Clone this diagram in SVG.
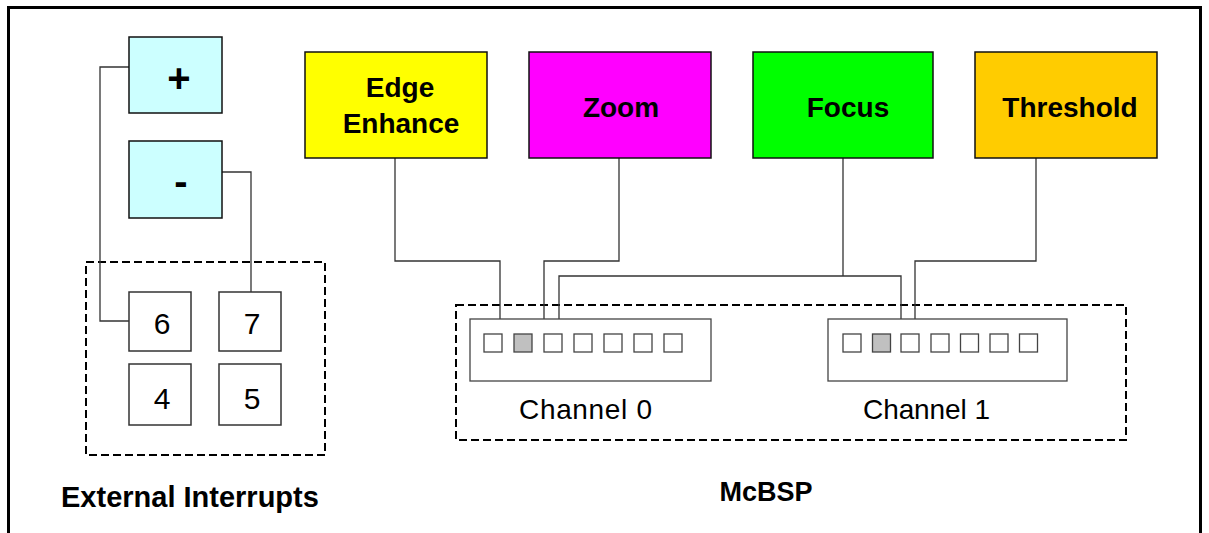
<svg xmlns="http://www.w3.org/2000/svg" width="1209" height="533" viewBox="0 0 1209 533">
<style>
.frame{fill:none;stroke:#000;stroke-width:3}
.node{stroke:#111;stroke-width:1.5}
.small{fill:#fff;stroke:#333;stroke-width:1.5}
.wire{fill:none;stroke:#333;stroke-width:1.3}
.dash{fill:none;stroke:#000;stroke-width:2;stroke-dasharray:8 4}
.sq{fill:#fff;stroke:#444;stroke-width:1.3}
.sqg{fill:#c0c0c0;stroke:#444;stroke-width:1.3}
.bold{font-family:"Liberation Sans",Arial,sans-serif;font-weight:bold;fill:#000}
.reg{font-family:"Liberation Sans",Arial,sans-serif;fill:#000}
</style>
<rect width="1209" height="533" fill="#fff"/>
<path class="frame" d="M8.5,533 V7.5 H1200.5 V533"/>

<g id="ext-group">
<rect class="dash" x="86" y="262" width="239" height="193"/>
<text class="bold" x="61" y="507" font-size="29">External Interrupts</text>
</g>
<g id="mcbsp-group">
<rect class="dash" x="456" y="305" width="670" height="135"/>
<text class="bold" x="766" y="501" font-size="27" text-anchor="middle">McBSP</text>
</g>

<g id="connectors">
<path class="wire" d="M129,67 H100 V321 H129"/>
<path class="wire" d="M222,172 H251 V292"/>
<path class="wire" d="M395,158 V261 H500 V334"/>
<path class="wire" d="M619,158 V261 H544 V334"/>
<path class="wire" d="M843,158 V276 M559,334 V276 H901 V334"/>
<path class="wire" d="M1036,158 V261 H915 V334"/>
</g>

<g id="plus">
<rect class="node" x="129" y="37" width="93" height="76" fill="#ccffff"/>
<text class="bold" x="179" y="92" font-size="40" text-anchor="middle">+</text>
</g>
<g id="minus">
<rect class="node" x="129" y="141" width="93" height="77" fill="#ccffff"/>
<text class="bold" x="181" y="195" font-size="40" text-anchor="middle">-</text>
</g>

<g id="int6"><rect class="small" x="129" y="292" width="62" height="59"/><text class="reg" x="162" y="334" font-size="30" text-anchor="middle">6</text></g>
<g id="int7"><rect class="small" x="219" y="292" width="62" height="59"/><text class="reg" x="252" y="334" font-size="30" text-anchor="middle">7</text></g>
<g id="int4"><rect class="small" x="129" y="364" width="62" height="61"/><text class="reg" x="162" y="409" font-size="30" text-anchor="middle">4</text></g>
<g id="int5"><rect class="small" x="219" y="364" width="62" height="61"/><text class="reg" x="252" y="409" font-size="30" text-anchor="middle">5</text></g>

<g id="edge-enhance">
<rect class="node" x="305" y="52" width="182" height="106" fill="#ffff00"/>
<text class="bold" x="400" y="97" font-size="28" text-anchor="middle">Edge</text>
<text class="bold" x="401" y="133" font-size="28" text-anchor="middle">Enhance</text>
</g>
<g id="zoom">
<rect class="node" x="529" y="52" width="182" height="106" fill="#ff00ff"/>
<text class="bold" x="621" y="117" font-size="28" text-anchor="middle">Zoom</text>
</g>
<g id="focus">
<rect class="node" x="753" y="52" width="180" height="106" fill="#00ff00"/>
<text class="bold" x="848" y="117" font-size="28" text-anchor="middle">Focus</text>
</g>
<g id="threshold">
<rect class="node" x="975" y="52" width="182" height="106" fill="#ffcc00"/>
<text class="bold" x="1070" y="117" font-size="28" text-anchor="middle">Threshold</text>
</g>

<g id="channel0">
<rect class="sq" x="470" y="319" width="241" height="62" fill="#fff"/>
<rect class="sq" x="484" y="334" width="18" height="18"/>
<rect class="sqg" x="514" y="334" width="18" height="18"/>
<rect class="sq" x="544" y="334" width="18" height="18"/>
<rect class="sq" x="574" y="334" width="18" height="18"/>
<rect class="sq" x="604" y="334" width="18" height="18"/>
<rect class="sq" x="634" y="334" width="18" height="18"/>
<rect class="sq" x="664" y="334" width="18" height="18"/>
<text class="reg" x="519" y="419" font-size="28" textLength="133" lengthAdjust="spacing">Channel 0</text>
</g>
<g id="channel1">
<rect class="sq" x="828" y="319" width="239" height="62" fill="#fff"/>
<rect class="sq" x="843" y="334" width="18" height="18"/>
<rect class="sqg" x="872.5" y="334" width="18" height="18"/>
<rect class="sq" x="901" y="334" width="18" height="18"/>
<rect class="sq" x="931" y="334" width="18" height="18"/>
<rect class="sq" x="960.5" y="334" width="18" height="18"/>
<rect class="sq" x="990" y="334" width="18" height="18"/>
<rect class="sq" x="1019.5" y="334" width="18" height="18"/>
<text class="reg" x="863" y="419" font-size="28" textLength="127" lengthAdjust="spacing">Channel 1</text>
</g>
</svg>
